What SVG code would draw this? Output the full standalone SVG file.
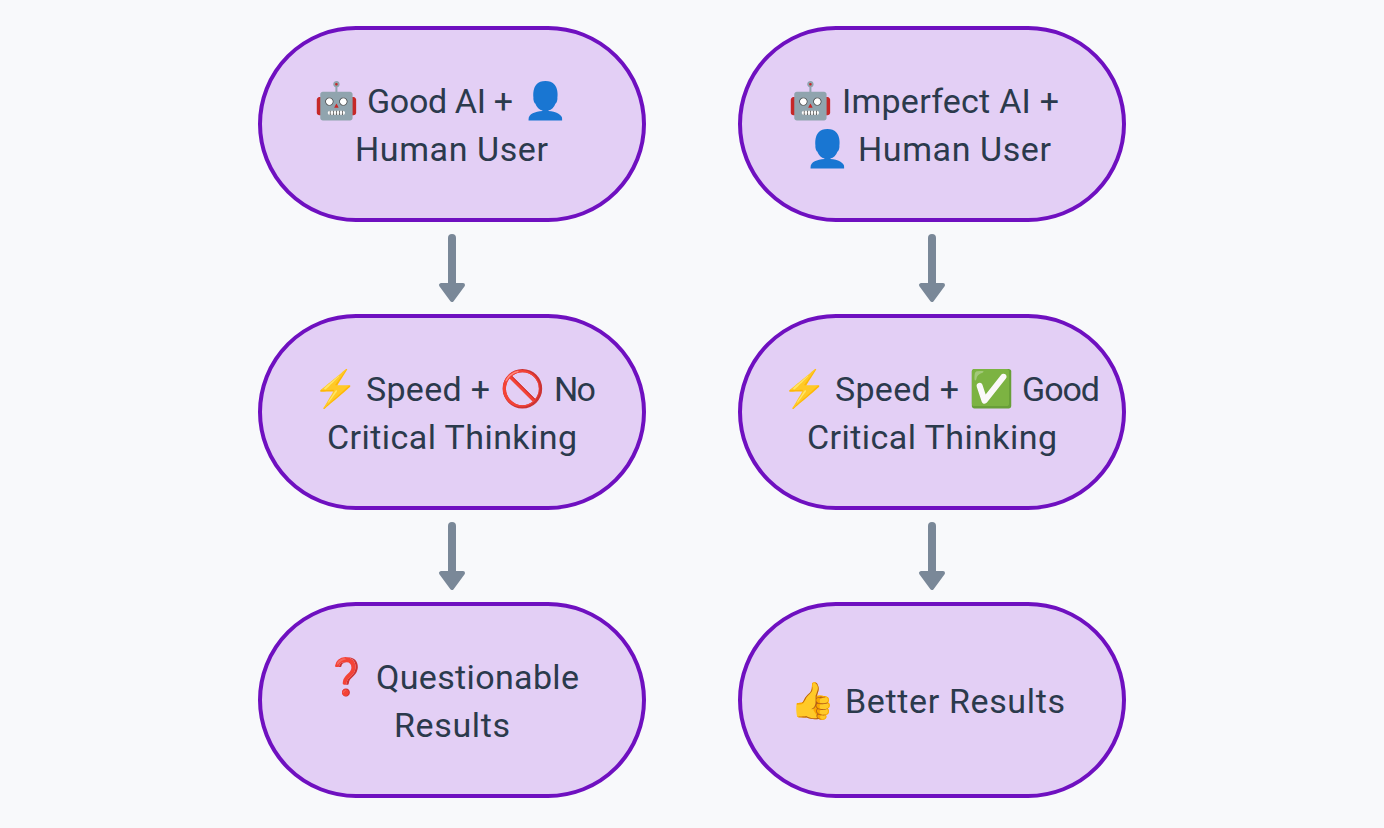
<svg xmlns="http://www.w3.org/2000/svg" width="1384" height="828" viewBox="0 0 1384 828">
<style>
.n{fill:#e3cff5;stroke:#6f10c0;stroke-width:4}
.t{font-family:Roboto,"Noto Sans",sans-serif;font-size:34px;fill:#2b3a4c}
.e{font-family:"Noto Color Emoji",sans-serif;font-size:36px}
.s{fill:none;stroke:#7a8898;stroke-width:8;stroke-linecap:round}
.h{fill:#7a8898;stroke:#7a8898;stroke-width:4;stroke-linejoin:round}
</style>
<defs>
<g id="arrow"><path class="s" d="M0 0V47"/><path class="h" d="M-11 47H11L0 62Z"/></g>
</defs>
<rect width="1384" height="828" fill="#f8f9fb"/>
<g id="connectors">
<use href="#arrow" x="452" y="238"/>
<use href="#arrow" x="932" y="238"/>
<use href="#arrow" x="452" y="526"/>
<use href="#arrow" x="932" y="526"/>
</g>
<g id="n1"><rect class="n" x="260" y="28" width="384" height="192" rx="96"/>
<text class="t" y="113"><tspan class="e" x="314">🤖</tspan></text>
<text class="t" x="367" y="113" textLength="146">Good AI +</text>
<text class="t" y="113"><tspan class="e" x="523">👤</tspan></text>
<text class="t" x="355" y="161" textLength="193">Human User</text></g>
<g id="n2"><rect class="n" x="260" y="316" width="384" height="192" rx="96"/>
<text class="t" y="401"><tspan class="e" x="313">⚡</tspan></text>
<text class="t" x="366" y="401" textLength="124">Speed +</text>
<text class="t" y="401"><tspan class="e" x="500">🚫</tspan></text>
<text class="t" x="554" y="401" textLength="42">No</text>
<text class="t" x="327" y="449" textLength="250">Critical Thinking</text></g>
<g id="n3"><rect class="n" x="260" y="604" width="384" height="192" rx="96"/>
<text class="t" y="689"><tspan class="e" x="324">❓</tspan></text>
<text class="t" x="376" y="689" textLength="203">Questionable</text>
<text class="t" x="394" y="737" textLength="116">Results</text></g>
<g id="n4"><rect class="n" x="740" y="28" width="384" height="192" rx="96"/>
<text class="t" y="113"><tspan class="e" x="788">🤖</tspan></text>
<text class="t" x="842" y="113" textLength="217">Imperfect AI +</text>
<text class="t" y="161"><tspan class="e" x="805">👤</tspan></text>
<text class="t" x="858" y="161" textLength="193">Human User</text></g>
<g id="n5"><rect class="n" x="740" y="316" width="384" height="192" rx="96"/>
<text class="t" y="401"><tspan class="e" x="782">⚡</tspan></text>
<text class="t" x="835" y="401" textLength="124">Speed +</text>
<text class="t" y="401"><tspan class="e" x="969">✅</tspan></text>
<text class="t" x="1022" y="401" textLength="78">Good</text>
<text class="t" x="807" y="449" textLength="250">Critical Thinking</text></g>
<g id="n6"><rect class="n" x="740" y="604" width="384" height="192" rx="96"/>
<text class="t" y="713"><tspan class="e" x="790">👍</tspan></text>
<text class="t" x="845" y="713" textLength="220">Better Results</text></g>
</svg>
